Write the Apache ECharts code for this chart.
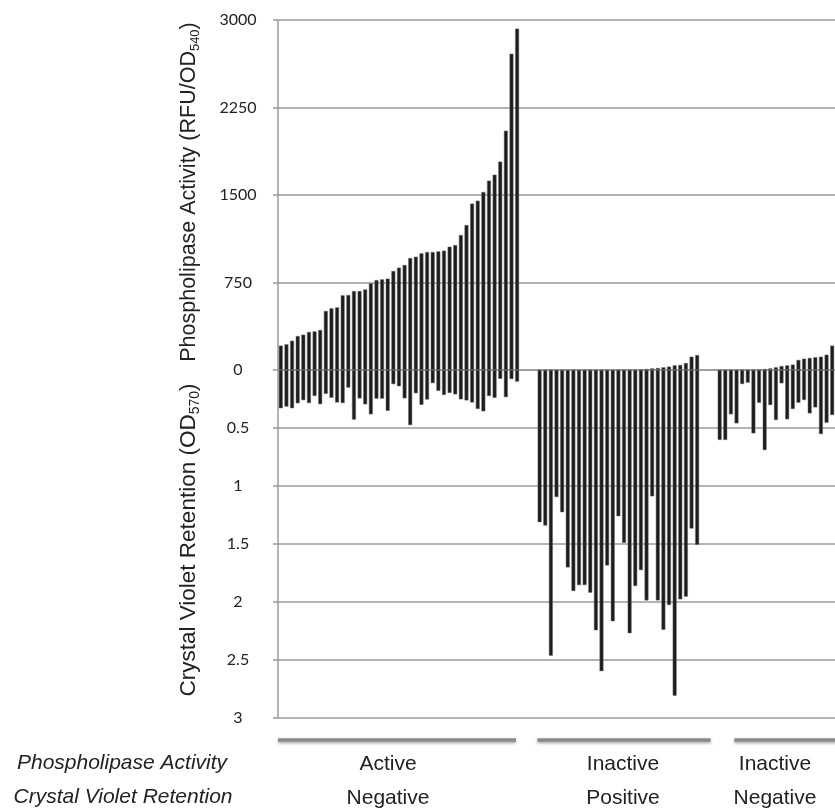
<!DOCTYPE html>
<html>
<head>
<meta charset="utf-8">
<script src="https://cdn.jsdelivr.net/npm/echarts@6/dist/echarts.min.js"></script>
<style>
html, body { margin: 0; padding: 0; background: #fff; }
#main { width: 835px; height: 811px; }
</style>
</head>
<body>
<div id="main"></div>
<script>
// phospholipase activity (RFU/OD540) and crystal violet retention (OD570), per isolate
var activeActivity = [209, 220, 251, 291, 303, 326, 331, 343, 506, 529, 537, 640, 643, 677, 677, 691, 743, 771, 777, 783,
    849, 877, 900, 960, 971, 1000, 1011, 1011, 1017, 1023, 1057, 1071, 1157, 1243, 1426, 1451, 1526, 1623, 1674, 1786,
    2051, 2711, 2926];
var activeCV = [0.33, 0.316, 0.33, 0.287, 0.26, 0.285, 0.224, 0.295, 0.205, 0.239, 0.28, 0.285, 0.152, 0.428, 0.245,
    0.296, 0.382, 0.247, 0.247, 0.352, 0.122, 0.14, 0.244, 0.475, 0.2, 0.3, 0.255, 0.113, 0.18, 0.215, 0.198, 0.21,
    0.253, 0.262, 0.28, 0.336, 0.356, 0.224, 0.24, 0.076, 0.234, 0.078, 0.1];

var positiveActivity = [0, 0, 0, 0, 0, 0, 0, 0, 0, 0, 0, 0, 0, 0, 0, 0, 0, 3, 6, 9, 14, 17, 23, 29, 40, 43, 60, 114, 128];
var positiveCV = [1.312, 1.341, 2.464, 1.095, 1.226, 1.702, 1.905, 1.854, 1.854, 1.92, 2.244, 2.596, 1.685, 2.166,
    1.261, 1.49, 2.269, 1.862, 1.725, 1.986, 1.089, 1.986, 2.24, 2.026, 2.808, 1.977, 1.954, 1.367, 1.507];

var negativeActivity = [0, 0, 0, 0, 0, 0, 0, 6, 9, 14, 23, 34, 40, 46, 86, 97, 103, 109, 114, 131, 209];
var negativeCV = [0.603, 0.603, 0.382, 0.46, 0.121, 0.109, 0.546, 0.282, 0.69, 0.302, 0.431, 0.115, 0.425, 0.336,
    0.282, 0.259, 0.374, 0.322, 0.552, 0.454, 0.388];

var groupLabels = [['Active', 'Negative'], ['Inactive', 'Positive'], ['Inactive', 'Negative']];
var rowLabels = ['Phospholipase Activity', 'Crystal Violet Retention'];
var gapSlots = 3;

var categories = [], activity = [], cv = [], groupRanges = [];
function addGroup(a, c, last) {
    var start = activity.length;
    for (var i = 0; i < a.length; i++) {
        activity.push(a[i]);
        cv.push(c[i]);
    }
    groupRanges.push([start, activity.length - 1]);
    if (!last) {
        for (var g = 0; g < gapSlots; g++) {
            activity.push('-');
            cv.push('-');
        }
    }
}
addGroup(activeActivity, activeCV);
addGroup(positiveActivity, positiveCV);
addGroup(negativeActivity, negativeCV, true);
for (var k = 0; k < activity.length; k++) categories.push('s' + k);

var myChart = echarts.init(document.getElementById('main'));

var gridColor = '#9a9a9a';
var labelFont = 'Lato';
var titleFont = 'Liberation Sans';

function valueAxis(grid, max, step, inverse) {
    return {
        type: 'value',
        gridIndex: grid,
        inverse: inverse,
        min: 0,
        max: max,
        interval: step,
        axisLine: { show: true, lineStyle: { color: gridColor, width: 1.5 } },
        axisTick: { show: true, length: 5, lineStyle: { color: gridColor, width: 1.5 } },
        axisLabel: {
            fontFamily: labelFont, fontSize: 16, color: '#222', align: 'center', margin: 40,
            showMinLabel: !inverse,
            formatter: function (v) { return String(v); }
        },
        splitLine: { lineStyle: { color: gridColor, width: 1.5 } }
    };
}

option = {
    animation: false,
    grid: [
        { left: 278, right: -3, top: 20, height: 350 },
        { left: 278, right: -3, top: 370, height: 348 }
    ],
    xAxis: [
        { type: 'category', gridIndex: 0, data: categories, show: false },
        { type: 'category', gridIndex: 1, data: categories, show: false }
    ],
    yAxis: [valueAxis(0, 3000, 750, false), valueAxis(1, 3, 0.5, true)],
    series: [{
        name: 'Phospholipase Activity',
        type: 'bar',
        xAxisIndex: 0,
        yAxisIndex: 0,
        data: activity,
        barWidth: 3.9,
        itemStyle: { color: '#1c1c1c', borderColor: '#6a6a6a', borderWidth: 0.5 }
    }, {
        name: 'Crystal Violet Retention',
        type: 'bar',
        xAxisIndex: 1,
        yAxisIndex: 1,
        data: cv,
        barWidth: 3.9,
        itemStyle: { color: '#1c1c1c', borderColor: '#6a6a6a', borderWidth: 0.5 }
    }]
};

myChart.setOption(option);

// rotated axis titles with subscripts
function subRich(size) {
    return { sub: { fontFamily: titleFont, fontSize: Math.round(size * 0.6), fill: '#222', verticalAlign: 'bottom', lineHeight: size + 4, padding: [7, 0, 0, 0] } };
}
var graphics = [{
    type: 'text', x: 189, y: 192, rotation: Math.PI / 2,
    style: {
        text: 'Phospholipase Activity (RFU/OD{sub|540})', rich: subRich(21.5),
        fontFamily: titleFont, fontSize: 21.5, fill: '#222', align: 'center', verticalAlign: 'middle', lineHeight: 25.5
    }
}, {
    type: 'text', x: 189, y: 540, rotation: Math.PI / 2,
    style: {
        text: 'Crystal Violet Retention (OD{sub|570})', rich: subRich(22.5),
        fontFamily: titleFont, fontSize: 22.5, fill: '#222', align: 'center', verticalAlign: 'middle', lineHeight: 26.5
    }
}];

// group bars under the plot: ends given in category slots from each group's first / last bar
var lineSpans = [[-0.5, -0.2], [-0.4, 2.4], [2.6, 3]];
var labelX = [388, 623, 775];
var slot = myChart.convertToPixel({ xAxisIndex: 0 }, categories[1]) - myChart.convertToPixel({ xAxisIndex: 0 }, categories[0]);
groupRanges.forEach(function (r, i) {
    var x0 = myChart.convertToPixel({ xAxisIndex: 0 }, categories[r[0]]) + lineSpans[i][0] * slot;
    var x1 = myChart.convertToPixel({ xAxisIndex: 0 }, categories[r[1]]) + lineSpans[i][1] * slot;
    graphics.push({
        type: 'line',
        shape: { x1: x0, y1: 740, x2: x1, y2: 740 },
        style: { stroke: '#8a8a8a', lineWidth: 3.5, shadowBlur: 3, shadowOffsetY: 1.5, shadowColor: 'rgba(0,0,0,0.35)' }
    });
    graphics.push({
        type: 'text', x: labelX[i], y: 764,
        style: { text: groupLabels[i][0], fontFamily: titleFont, fontSize: 21, fill: '#222', align: 'center', verticalAlign: 'middle' }
    });
    graphics.push({
        type: 'text', x: labelX[i], y: 798,
        style: { text: groupLabels[i][1], fontFamily: titleFont, fontSize: 21, fill: '#222', align: 'center', verticalAlign: 'middle' }
    });
});
graphics.push({
    type: 'text', x: 122, y: 763,
    style: { text: rowLabels[0], fontFamily: titleFont, fontStyle: 'italic', fontSize: 21, fill: '#222', align: 'center', verticalAlign: 'middle' }
});
graphics.push({
    type: 'text', x: 123, y: 797,
    style: { text: rowLabels[1], fontFamily: titleFont, fontStyle: 'italic', fontSize: 21, fill: '#222', align: 'center', verticalAlign: 'middle' }
});
myChart.setOption({ graphic: graphics });
</script>
</body>
</html>
